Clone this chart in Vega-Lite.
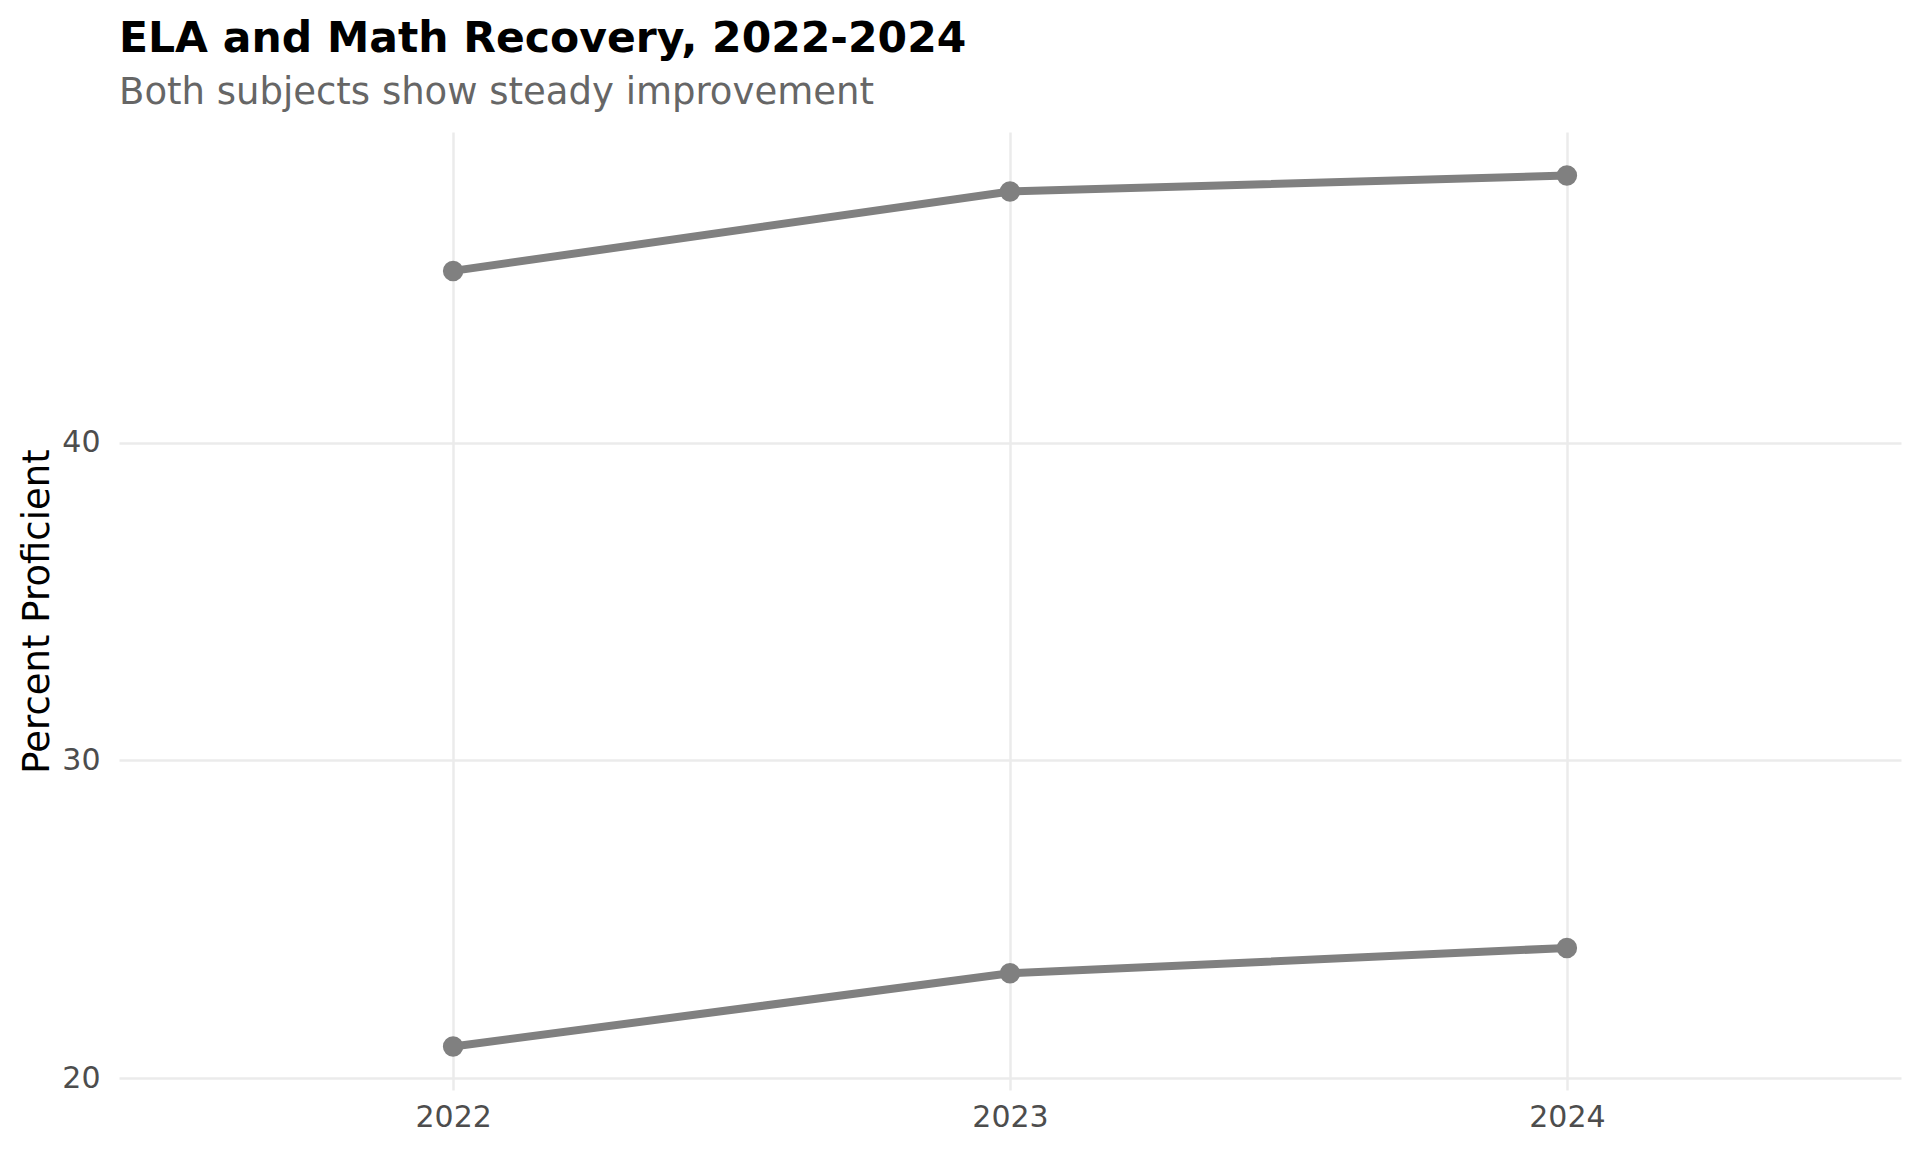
{
  "$schema": "https://vega.github.io/schema/vega-lite/v6.json",
  "width": 1782,
  "height": 958,
  "autosize": {"type": "none"},
  "padding": {"left": 119, "top": 132, "right": 19, "bottom": 62},
  "background": "white",
  "title": {
    "text": "ELA and Math Recovery, 2022-2024",
    "subtitle": "Both subjects show steady improvement",
    "anchor": "start",
    "frame": "group",
    "font": "DejaVu Sans",
    "fontSize": 42.5,
    "fontWeight": "bold",
    "color": "#000000",
    "subtitleFont": "DejaVu Sans",
    "subtitleFontSize": 37,
    "subtitleColor": "#666666",
    "subtitlePadding": 15,
    "offset": 21
  },
  "data": {
    "values": [
      {"year": 2022, "subject": "ELA", "pct": 45.4},
      {"year": 2023, "subject": "ELA", "pct": 47.9},
      {"year": 2024, "subject": "ELA", "pct": 48.4},
      {"year": 2022, "subject": "Math", "pct": 21.0},
      {"year": 2023, "subject": "Math", "pct": 23.3},
      {"year": 2024, "subject": "Math", "pct": 24.1}
    ]
  },
  "config": {
    "view": {"stroke": null},
    "axis": {
      "domain": false,
      "ticks": false,
      "gridColor": "#EBEBEB",
      "gridWidth": 2.5,
      "labelFont": "DejaVu Sans",
      "labelFontSize": 30,
      "labelColor": "#4D4D4D",
      "titleFont": "DejaVu Sans",
      "titleFontSize": 37,
      "titleFontWeight": "normal",
      "titleColor": "#000000"
    }
  },
  "encoding": {
    "x": {
      "field": "year",
      "type": "quantitative",
      "scale": {"domain": [2021.4, 2024.6], "nice": false, "zero": false},
      "axis": {"values": [2022, 2023, 2024], "format": "d", "title": null, "labelPadding": 12, "grid": true}
    },
    "y": {
      "field": "pct",
      "type": "quantitative",
      "scale": {"domain": [19.63, 49.77], "nice": false, "zero": false},
      "axis": {"values": [20, 30, 40], "title": "Percent Proficient", "labelPadding": 19, "titlePadding": 5, "grid": true}
    },
    "detail": {"field": "subject", "type": "nominal"}
  },
  "layer": [
    {"mark": {"type": "line", "color": "#808080", "strokeWidth": 8}},
    {"mark": {"type": "point", "filled": true, "color": "#808080", "opacity": 1, "size": 420}}
  ]
}
